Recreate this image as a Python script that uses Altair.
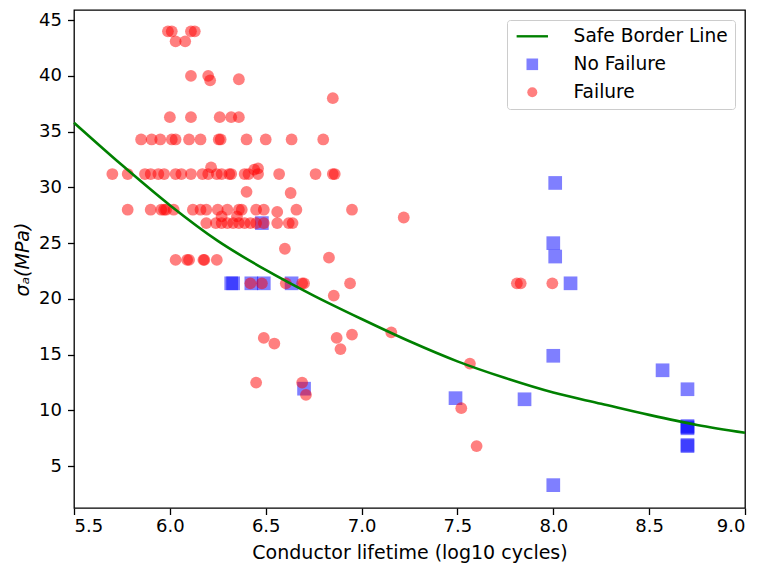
import altair as alt
import pandas as pd

# ---- data ----
series = ["Safe Border Line", "No Failure", "Failure"]

nofail_x = [6.32, 6.33, 6.425, 6.49, 6.635, 6.48, 6.70,
            8.09, 8.01, 8.00, 8.01,
            7.49, 8.00, 7.85, 8.57, 8.70,
            8.70, 8.70, 8.70, 8.70, 8.70, 8.00]
nofail_y = [21.4, 21.4, 21.4, 21.4, 21.4, 26.8, 11.95,
            21.4, 30.4, 25.0, 23.8,
            11.1, 14.9, 11.0, 13.6, 11.9,
            8.6, 8.5, 8.4, 6.9, 6.8, 3.3]

fail_x = [5.99, 6.01, 6.11, 6.13, 6.03, 6.08,
          6.11, 6.20, 6.21, 6.36, 6.85,
          6.00, 6.11, 6.26, 6.32, 6.36,
          5.85, 5.905, 5.95, 6.01, 6.03, 6.10, 6.16, 6.255, 6.265, 6.40, 6.50, 6.635, 6.80,
          5.70, 5.78, 5.87, 5.90, 5.94, 5.97, 6.03, 6.06, 6.11, 6.17, 6.20, 6.245, 6.27,
          6.31, 6.32, 6.39, 6.41, 6.46, 6.57, 6.76, 6.85, 6.86,
          6.215, 6.44, 6.46,
          5.78, 5.90, 5.955, 5.97, 5.98, 6.02, 6.12, 6.16, 6.19, 6.25, 6.30, 6.36, 6.375,
          6.45, 6.49, 6.66, 6.95, 6.56,
          6.27, 6.35,
          6.19, 6.24, 6.27, 6.30, 6.33, 6.36, 6.39, 6.42, 6.45, 6.49, 6.56, 6.62, 6.64,
          6.40, 6.63, 6.60, 6.83,
          6.03, 6.09, 6.10, 6.175, 6.18, 6.245,
          6.855,
          6.42, 6.48, 6.605, 6.69, 6.70, 6.94,
          6.49, 6.545, 6.87, 6.89, 6.95, 7.155,
          6.45, 6.69, 6.71,
          7.22, 7.81, 7.83, 7.995,
          7.565, 7.52, 7.60]
fail_y = [44.0, 44.0, 44.0, 44.0, 43.1, 43.1,
          40.0, 40.0, 39.6, 39.7, 38.0,
          36.3, 36.3, 36.3, 36.3, 36.3,
          34.3, 34.3, 34.3, 34.3, 34.3, 34.3, 34.3, 34.3, 34.3, 34.3, 34.3, 34.3, 34.3,
          31.2, 31.2, 31.2, 31.2, 31.2, 31.2, 31.2, 31.2, 31.2, 31.2, 31.2, 31.2, 31.2,
          31.2, 31.2, 31.2, 31.2, 31.2, 31.2, 31.2, 31.2, 31.2,
          31.8, 31.6, 31.7,
          28.0, 28.0, 28.0, 28.0, 28.0, 28.0, 28.0, 28.0, 28.0, 28.0, 28.0, 28.0, 28.0,
          28.0, 28.0, 28.0, 28.0, 27.8,
          27.4, 27.4,
          26.8, 26.8, 26.8, 26.8, 26.8, 26.8, 26.8, 26.8, 26.8, 26.8, 26.8, 26.8, 26.8,
          29.6, 29.5, 24.5, 23.7,
          23.5, 23.5, 23.5, 23.5, 23.5, 23.5,
          20.3,
          21.4, 21.4, 21.4, 21.4, 21.4, 21.4,
          16.5, 16.0, 16.5, 15.5, 16.8, 17.0,
          12.5, 12.5, 11.4,
          27.3, 21.4, 21.4, 21.4,
          14.2, 10.2, 6.8]

line_x = [5.5, 5.75, 6.0, 6.25, 6.5, 6.75, 7.0, 7.25, 7.5, 7.75, 8.0, 8.25, 8.5, 8.75, 9.0]
line_y = [35.8, 32.0, 28.4, 25.2, 22.6, 20.3, 18.2, 16.2, 14.4, 12.9, 11.6, 10.6, 9.6, 8.7, 8.0]

x_ticks = [5.5, 6.0, 6.5, 7.0, 7.5, 8.0, 8.5, 9.0]
y_ticks = [5, 10, 15, 20, 25, 30, 35, 40, 45]

# ---- tables ----
pts = pd.DataFrame({
    "x": nofail_x + fail_x,
    "y": nofail_y + fail_y,
    "series": ["No Failure"] * len(nofail_x) + ["Failure"] * len(fail_x),
})
line_df = pd.DataFrame({"x": line_x, "y": line_y})

FONT = "DejaVu Sans"
LINE_SHAPE = "M-3.136,-0.237H3.136V0.237H-3.136Z"
SQUARE_SHAPE = "M-1.161,-1.161H1.161V1.161H-1.161Z"

legend = alt.Legend(
    title=None, orient="top-right", offset=10, padding=7,
    labelFont=FONT, labelFontSize=18.6, labelColor="black",
    symbolOffset=9, labelOffset=32, rowPadding=9,
    strokeColor="#cccccc", fillColor="white", cornerRadius=3,
    symbolStrokeWidth=0, symbolOpacity=1,
)

x_enc = alt.X("x:Q", scale=alt.Scale(domain=[5.5, 9.0], nice=False, zero=False),
              axis=alt.Axis(values=x_ticks, format=".1f", labelPadding=3, titlePadding=8,
                            title="Conductor lifetime (log10 cycles)"))
y_enc = alt.Y("y:Q", scale=alt.Scale(domain=[1.25, 45.91], nice=False, zero=False),
              axis=alt.Axis(values=y_ticks, format="d", labelPadding=6, titlePadding=6,
                            title="σₐ(MPa)", titleFontStyle="italic"))

points = alt.Chart(pts).mark_point(filled=True, size=139, strokeWidth=0, opacity=1).encode(
    x=x_enc,
    y=y_enc,
    fill=alt.Fill("series:N", scale=alt.Scale(
        domain=series, range=["green", "rgba(0,0,255,0.5)", "rgba(255,0,0,0.5)"]), legend=legend),
    shape=alt.Shape("series:N", scale=alt.Scale(
        domain=series, range=[LINE_SHAPE, SQUARE_SHAPE, "circle"]), legend=legend),
)

line = alt.Chart(line_df).mark_line(color="green", strokeWidth=2.6, interpolate="monotone").encode(
    x="x:Q", y="y:Q")

chart = alt.layer(points, line).properties(
    width=671, height=498,
    padding={"left": 74, "top": 10, "right": 16, "bottom": 60},
    autosize=alt.AutoSizeParams(type="none"),
    background="white",
).configure_view(stroke="black", strokeWidth=1.3).configure_axis(
    labelFont=FONT, labelFontSize=18, labelColor="black",
    tickColor="black", tickWidth=1.3, tickSize=6.5,
    domain=False, grid=False,
    titleFont=FONT, titleFontSize=19, titleFontWeight="normal", titleColor="black",
)

chart.save("out.html", embed_options={"renderer": "svg", "actions": False})
